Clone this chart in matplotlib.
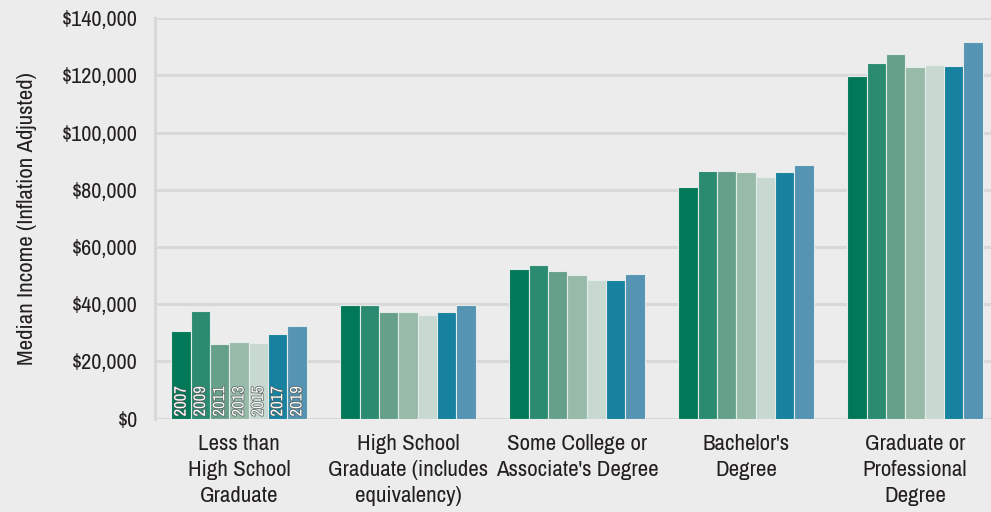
#!/usr/bin/env python3
"""Median income by education level, 2007-2019 (grouped bars)."""

import matplotlib.pyplot as plt
import matplotlib.patheffects as pe
import numpy as np
from matplotlib import font_manager
from matplotlib.ticker import FuncFormatter

categories = [
    "Less than\nHigh School\nGraduate",
    "High School\nGraduate (includes\nequivalency)",
    "Some College or\nAssociate's Degree",
    "Bachelor's\nDegree",
    "Graduate or\nProfessional\nDegree",
]
years = ["2007", "2009", "2011", "2013", "2015", "2017", "2019"]
# median income per year, one list per category
income = [
    [30500, 37700, 26100, 26800, 26300, 29700, 32400],
    [39800, 39800, 37100, 37100, 36200, 37100, 39800],
    [52400, 53800, 51600, 50300, 48400, 48400, 50700],
    [80800, 86700, 86700, 86200, 84400, 86200, 88600],
    [119700, 124200, 127300, 122800, 123700, 123300, 131600],
]

# the original uses a condensed face; take the narrowest one that is installed
names = {f.name for f in font_manager.fontManager.ttflist}
narrow = sorted(n for n in names if "Narrow" in n or "Condensed" in n)
family = narrow[0] if narrow else ("Roboto" if "Roboto" in names else "DejaVu Sans")
stretch = "normal"
if not narrow:
    cond = [f for f in font_manager.fontManager.ttflist
            if f.stretch not in ("normal", 500) and "Sans" in f.name]
    if cond:
        family, stretch = cond[0].name, cond[0].stretch
plt.rcParams.update({
    "font.family": [family, "DejaVu Sans"],
    "font.stretch": stretch,
    "font.size": 14,
})

colors = ["#017857", "#2a8b71", "#66a08a", "#98baa9", "#c8d9d1", "#1782a0", "#5594b2"]
bg = "#ececec"
grid = "#d8d8d8"
text = "#231f20"

fig = plt.figure(figsize=(9.91, 5.12), dpi=100, facecolor=bg)
ax = fig.add_axes([0.156, 0.1826, 0.844, 0.782], facecolor=bg)

values = np.array(income)
x = np.arange(len(categories))
width = 0.8 / len(years)
for j, year in enumerate(years):
    pos = x - 0.4 + width * (j + 0.5)
    ax.bar(pos, values[:, j], width=width, color=colors[j],
           edgecolor="#e4ecea", linewidth=0.8, zorder=3)
    # year labels inside the first group
    ax.text(pos[0], 700, year, rotation=90, ha="center", va="bottom",
            color="white", fontsize=12, zorder=4,
            path_effects=[pe.withStroke(linewidth=1.0, foreground="#55605a")])

ax.set_ylim(0, 140000)
ax.set_xlim(-0.5, 4.45)
ax.set_yticks(np.arange(0, 140001, 20000))
ax.yaxis.set_major_formatter(FuncFormatter(lambda v, _: f"${v:,.0f}"))
ax.grid(axis="y", color=grid, linewidth=2.2, zorder=0)
ax.set_axisbelow(True)

for side in ["top", "right", "bottom"]:
    ax.spines[side].set_visible(False)
ax.spines["left"].set_color(grid)
ax.spines["left"].set_linewidth(2.2)

ax.tick_params(axis="y", length=0, pad=12, labelsize=16, labelcolor=text)
ax.tick_params(axis="x", length=0, pad=11, labelsize=16.5, labelcolor=text)
ax.set_xticks(x)
ax.set_xticklabels(categories, linespacing=1.38)
ax.set_ylabel("Median Income (Inflation Adjusted)", fontsize=16.5, color=text, labelpad=18)

fig.savefig("out.png", dpi=100, facecolor=bg)
